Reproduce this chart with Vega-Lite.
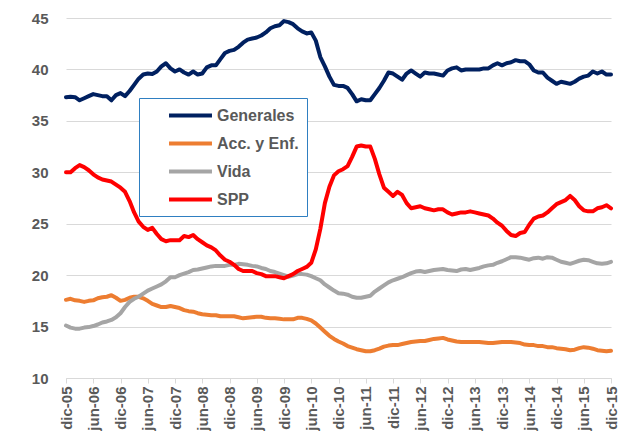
{
  "$schema": "https://vega.github.io/schema/vega-lite/v6.json",
  "width": 545,
  "height": 360,
  "autosize": {"type": "none"},
  "padding": {"left": 66, "top": 18, "right": 18, "bottom": 64},
  "background": "white",
  "config": {"view": {"stroke": null}, "font": "Liberation Sans"},
  "data": {"values": [
    {"m":"dic-05","G":37.3,"A":17.6,"V":15.1,"S":30.0},
    {"m":"ene-06","G":37.35,"A":17.7,"V":14.9,"S":30.0},
    {"m":"feb-06","G":37.3,"A":17.55,"V":14.8,"S":30.4},
    {"m":"mar-06","G":37.0,"A":17.5,"V":14.8,"S":30.7},
    {"m":"abr-06","G":37.2,"A":17.4,"V":14.9,"S":30.5},
    {"m":"may-06","G":37.4,"A":17.5,"V":14.95,"S":30.2},
    {"m":"jun-06","G":37.6,"A":17.55,"V":15.05,"S":29.8},
    {"m":"jul-06","G":37.5,"A":17.75,"V":15.2,"S":29.5},
    {"m":"ago-06","G":37.4,"A":17.85,"V":15.4,"S":29.3},
    {"m":"sep-06","G":37.4,"A":17.9,"V":15.5,"S":29.2},
    {"m":"oct-06","G":37.0,"A":18.05,"V":15.65,"S":29.1},
    {"m":"nov-06","G":37.5,"A":17.8,"V":15.9,"S":28.8},
    {"m":"dic-06","G":37.7,"A":17.5,"V":16.3,"S":28.5},
    {"m":"ene-07","G":37.4,"A":17.6,"V":16.9,"S":28.1},
    {"m":"feb-07","G":37.9,"A":17.8,"V":17.4,"S":27.2},
    {"m":"mar-07","G":38.5,"A":17.9,"V":17.7,"S":26.1},
    {"m":"abr-07","G":39.1,"A":17.9,"V":17.9,"S":25.2},
    {"m":"may-07","G":39.5,"A":17.75,"V":18.2,"S":24.7},
    {"m":"jun-07","G":39.6,"A":17.5,"V":18.5,"S":24.4},
    {"m":"jul-07","G":39.55,"A":17.2,"V":18.7,"S":24.6},
    {"m":"ago-07","G":39.8,"A":17.05,"V":18.9,"S":24.0},
    {"m":"sep-07","G":40.3,"A":16.9,"V":19.1,"S":23.5},
    {"m":"oct-07","G":40.6,"A":16.9,"V":19.4,"S":23.3},
    {"m":"nov-07","G":40.1,"A":17.0,"V":19.8,"S":23.4},
    {"m":"dic-07","G":39.8,"A":16.9,"V":19.8,"S":23.4},
    {"m":"ene-08","G":40.0,"A":16.8,"V":20.0,"S":23.4},
    {"m":"feb-08","G":39.7,"A":16.6,"V":20.15,"S":23.8},
    {"m":"mar-08","G":39.5,"A":16.5,"V":20.3,"S":23.7},
    {"m":"abr-08","G":39.8,"A":16.45,"V":20.5,"S":23.9},
    {"m":"may-08","G":39.5,"A":16.3,"V":20.55,"S":23.5},
    {"m":"jun-08","G":39.6,"A":16.2,"V":20.65,"S":23.2},
    {"m":"jul-08","G":40.2,"A":16.15,"V":20.75,"S":22.9},
    {"m":"ago-08","G":40.4,"A":16.1,"V":20.85,"S":22.7},
    {"m":"sep-08","G":40.4,"A":16.1,"V":20.9,"S":22.4},
    {"m":"oct-08","G":41.0,"A":16.0,"V":20.9,"S":21.9},
    {"m":"nov-08","G":41.6,"A":16.0,"V":20.9,"S":21.5},
    {"m":"dic-08","G":41.8,"A":16.0,"V":21.0,"S":21.3},
    {"m":"ene-09","G":41.9,"A":16.0,"V":21.0,"S":21.0},
    {"m":"feb-09","G":42.2,"A":15.9,"V":21.1,"S":20.6},
    {"m":"mar-09","G":42.6,"A":15.8,"V":21.05,"S":20.4},
    {"m":"abr-09","G":42.9,"A":15.85,"V":21.0,"S":20.4},
    {"m":"may-09","G":43.0,"A":15.9,"V":20.9,"S":20.4},
    {"m":"jun-09","G":43.1,"A":15.95,"V":20.85,"S":20.2},
    {"m":"jul-09","G":43.3,"A":15.95,"V":20.7,"S":20.1},
    {"m":"ago-09","G":43.6,"A":15.85,"V":20.6,"S":19.9},
    {"m":"sep-09","G":44.0,"A":15.8,"V":20.4,"S":19.9},
    {"m":"oct-09","G":44.2,"A":15.8,"V":20.3,"S":19.9},
    {"m":"nov-09","G":44.3,"A":15.75,"V":20.15,"S":19.8},
    {"m":"dic-09","G":44.7,"A":15.7,"V":20.0,"S":19.7},
    {"m":"ene-10","G":44.6,"A":15.7,"V":19.85,"S":19.9},
    {"m":"feb-10","G":44.4,"A":15.7,"V":19.95,"S":20.1},
    {"m":"mar-10","G":44.0,"A":15.85,"V":20.1,"S":20.4},
    {"m":"abr-10","G":43.7,"A":15.85,"V":20.1,"S":20.6},
    {"m":"may-10","G":43.5,"A":15.75,"V":20.05,"S":20.8},
    {"m":"jun-10","G":43.6,"A":15.6,"V":19.9,"S":21.2},
    {"m":"jul-10","G":42.8,"A":15.3,"V":19.7,"S":22.5},
    {"m":"ago-10","G":41.2,"A":14.9,"V":19.5,"S":24.5},
    {"m":"sep-10","G":40.3,"A":14.5,"V":19.1,"S":27.0},
    {"m":"oct-10","G":39.3,"A":14.1,"V":18.8,"S":28.6},
    {"m":"nov-10","G":38.5,"A":13.8,"V":18.5,"S":29.7},
    {"m":"dic-10","G":38.4,"A":13.55,"V":18.25,"S":30.1},
    {"m":"ene-11","G":38.4,"A":13.35,"V":18.2,"S":30.3},
    {"m":"feb-11","G":38.2,"A":13.1,"V":18.1,"S":30.6},
    {"m":"mar-11","G":37.6,"A":12.95,"V":17.9,"S":31.5},
    {"m":"abr-11","G":36.9,"A":12.8,"V":17.8,"S":32.5},
    {"m":"may-11","G":37.1,"A":12.7,"V":17.8,"S":32.6},
    {"m":"jun-11","G":37.0,"A":12.6,"V":17.9,"S":32.5},
    {"m":"jul-11","G":37.0,"A":12.6,"V":18.0,"S":32.5},
    {"m":"ago-11","G":37.6,"A":12.7,"V":18.4,"S":31.3},
    {"m":"sep-11","G":38.2,"A":12.85,"V":18.7,"S":29.8},
    {"m":"oct-11","G":38.9,"A":13.05,"V":19.0,"S":28.5},
    {"m":"nov-11","G":39.7,"A":13.15,"V":19.3,"S":28.1},
    {"m":"dic-11","G":39.6,"A":13.2,"V":19.5,"S":27.7},
    {"m":"ene-12","G":39.3,"A":13.2,"V":19.65,"S":28.1},
    {"m":"feb-12","G":39.0,"A":13.3,"V":19.8,"S":27.8},
    {"m":"mar-12","G":39.6,"A":13.4,"V":20.0,"S":27.0},
    {"m":"abr-12","G":39.9,"A":13.5,"V":20.2,"S":26.5},
    {"m":"may-12","G":39.6,"A":13.55,"V":20.35,"S":26.6},
    {"m":"jun-12","G":39.3,"A":13.6,"V":20.4,"S":26.7},
    {"m":"jul-12","G":39.7,"A":13.6,"V":20.3,"S":26.5},
    {"m":"ago-12","G":39.6,"A":13.7,"V":20.4,"S":26.4},
    {"m":"sep-12","G":39.6,"A":13.8,"V":20.5,"S":26.3},
    {"m":"oct-12","G":39.5,"A":13.85,"V":20.55,"S":26.4},
    {"m":"nov-12","G":39.4,"A":13.9,"V":20.6,"S":26.4},
    {"m":"dic-12","G":39.9,"A":13.75,"V":20.5,"S":26.1},
    {"m":"ene-13","G":40.1,"A":13.65,"V":20.45,"S":25.9},
    {"m":"feb-13","G":40.2,"A":13.55,"V":20.4,"S":26.0},
    {"m":"mar-13","G":39.9,"A":13.5,"V":20.55,"S":26.1},
    {"m":"abr-13","G":40.0,"A":13.5,"V":20.6,"S":26.1},
    {"m":"may-13","G":40.0,"A":13.5,"V":20.5,"S":26.2},
    {"m":"jun-13","G":40.0,"A":13.5,"V":20.6,"S":26.1},
    {"m":"jul-13","G":40.0,"A":13.5,"V":20.7,"S":26.0},
    {"m":"ago-13","G":40.1,"A":13.45,"V":20.85,"S":25.9},
    {"m":"sep-13","G":40.1,"A":13.4,"V":20.95,"S":25.8},
    {"m":"oct-13","G":40.4,"A":13.4,"V":21.0,"S":25.5},
    {"m":"nov-13","G":40.6,"A":13.45,"V":21.2,"S":25.1},
    {"m":"dic-13","G":40.4,"A":13.5,"V":21.35,"S":24.8},
    {"m":"ene-14","G":40.6,"A":13.5,"V":21.55,"S":24.3},
    {"m":"feb-14","G":40.7,"A":13.5,"V":21.75,"S":23.9},
    {"m":"mar-14","G":40.9,"A":13.45,"V":21.75,"S":23.8},
    {"m":"abr-14","G":40.8,"A":13.4,"V":21.7,"S":24.1},
    {"m":"may-14","G":40.8,"A":13.25,"V":21.6,"S":24.2},
    {"m":"jun-14","G":40.5,"A":13.2,"V":21.5,"S":24.9},
    {"m":"jul-14","G":39.9,"A":13.2,"V":21.65,"S":25.5},
    {"m":"ago-14","G":39.7,"A":13.1,"V":21.7,"S":25.7},
    {"m":"sep-14","G":39.7,"A":13.1,"V":21.6,"S":25.8},
    {"m":"oct-14","G":39.2,"A":13.0,"V":21.75,"S":26.1},
    {"m":"nov-14","G":38.9,"A":13.0,"V":21.7,"S":26.5},
    {"m":"dic-14","G":38.6,"A":12.9,"V":21.5,"S":26.9},
    {"m":"ene-15","G":38.8,"A":12.85,"V":21.3,"S":27.1},
    {"m":"feb-15","G":38.7,"A":12.8,"V":21.2,"S":27.3},
    {"m":"mar-15","G":38.6,"A":12.7,"V":21.1,"S":27.7},
    {"m":"abr-15","G":38.8,"A":12.75,"V":21.25,"S":27.3},
    {"m":"may-15","G":39.1,"A":12.9,"V":21.4,"S":26.7},
    {"m":"jun-15","G":39.3,"A":13.0,"V":21.5,"S":26.3},
    {"m":"jul-15","G":39.4,"A":12.95,"V":21.45,"S":26.2},
    {"m":"ago-15","G":39.8,"A":12.85,"V":21.3,"S":26.2},
    {"m":"sep-15","G":39.6,"A":12.7,"V":21.15,"S":26.5},
    {"m":"oct-15","G":39.8,"A":12.65,"V":21.1,"S":26.6},
    {"m":"nov-15","G":39.5,"A":12.6,"V":21.15,"S":26.8},
    {"m":"dic-15","G":39.5,"A":12.65,"V":21.3,"S":26.5}
  ]},
  "transform": [{"fold": ["G", "A", "V", "S"], "as": ["serie", "valor"]}],
  "mark": {"type": "line", "strokeWidth": 4, "strokeJoin": "round", "strokeCap": "round"},
  "encoding": {
    "x": {
      "field": "m", "type": "ordinal", "sort": null,
      "scale": {"type": "point", "padding": 0},
      "axis": {
        "title": null,
        "values": ["dic-05","jun-06","dic-06","jun-07","dic-07","jun-08","dic-08","jun-09","dic-09","jun-10","dic-10","jun-11","dic-11","jun-12","dic-12","jun-13","dic-13","jun-14","dic-14","jun-15","dic-15"],
        "labelAngle": -90, "labelAlign": "right", "labelBaseline": "middle",
        "labelFont": "Liberation Sans", "labelFontSize": 15, "labelFontWeight": "bold",
        "labelColor": "#595959", "labelPadding": 3,
        "domainColor": "#D9D9D9", "domainWidth": 1,
        "tickColor": "#D9D9D9", "tickSize": 5, "grid": false
      }
    },
    "y": {
      "field": "valor", "type": "quantitative",
      "scale": {"domain": [10, 45], "nice": false, "zero": false},
      "axis": {
        "title": null, "values": [10, 15, 20, 25, 30, 35, 40, 45],
        "domain": false, "ticks": false,
        "gridColor": "#D9D9D9", "gridWidth": 1,
        "labelFont": "Liberation Sans", "labelFontSize": 15, "labelFontWeight": "bold",
        "labelColor": "#595959", "labelPadding": 18
      }
    },
    "color": {
      "field": "serie", "type": "nominal",
      "scale": {"domain": ["G", "A", "V", "S"], "range": ["#002060", "#ED7D31", "#A5A5A5", "#FF0000"]},
      "legend": {
        "title": null, "orient": "none", "legendX": 73, "legendY": 80,
        "direction": "vertical", "symbolType": "M-3,0H3", "symbolSize": 205,
        "symbolStrokeWidth": 4,
        "labelFont": "Liberation Sans", "labelFontSize": 16, "labelFontWeight": "bold",
        "labelColor": "#595959", "labelOffset": 17,
        "strokeColor": "#2F7FC1", "fillColor": "white", "padding": 8, "symbolOffset": 34, "rowPadding": 10,
        "labelExpr": "datum.label == 'G' ? 'Generales' : datum.label == 'A' ? 'Acc. y Enf.' : datum.label == 'V' ? 'Vida' : 'SPP'"
      }
    }
  }
}
